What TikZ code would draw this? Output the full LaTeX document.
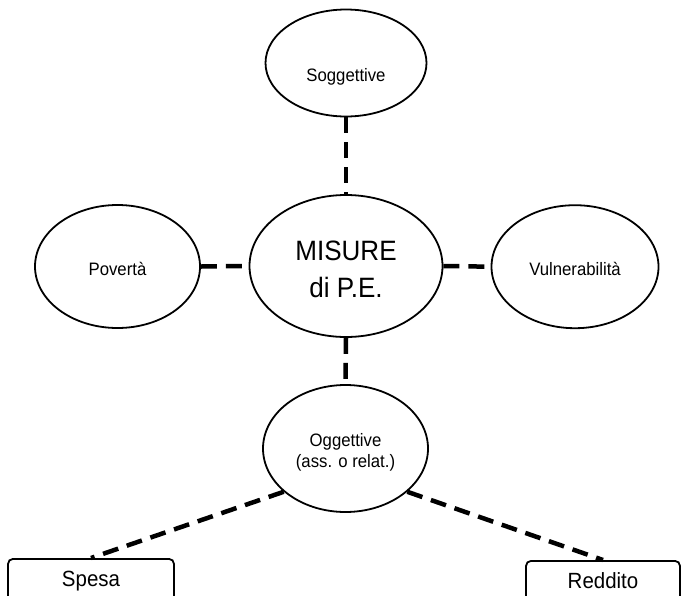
\documentclass[tikz,border=0pt]{standalone}
\usepackage{fontspec}
\setmainfont{Liberation Sans}[FakeStretch=0.93]
\usetikzlibrary{shapes.geometric}
\tikzset{
  oval/.style={draw, ellipse, line width=1.8pt, inner sep=0pt, align=center,
    font=\fontsize{18}{21}\selectfont},
  leafbox/.style={draw, rounded corners=5pt, line width=1.8pt, anchor=north,
    inner xsep=0pt, inner ysep=12pt, text height=16pt, text depth=5pt,
    font=\fontsize{22}{26}\selectfont},
  link/.style={line width=4.5pt, dash pattern=on 16pt off 9pt},
}
\newcommand{\lowr}[2]{\raisebox{-#1pt}[0pt][0pt]{#2}}
\begin{document}
\begin{tikzpicture}[x=1pt,y=-1pt]
\useasboundingbox (0,0) rectangle (682,595);
\clip (0,0) rectangle (682,595);
\fill[white] (0,0) rectangle (682,595);

\node[oval, minimum width=161pt, minimum height=107pt] (sog) at (346,63) {\lowr{18}{Soggettive}};
\node[oval, minimum width=193pt, minimum height=142pt, font=\fontsize{28}{37}\selectfont] (mis) at (346,266)
  {\lowr{12.5}{MISURE}\\\lowr{12.5}{di P.E.}};
\node[oval, minimum width=165pt, minimum height=123pt] (pov) at (117.5,266.5) {\lowr{8.5}{Povertà}};
\node[oval, minimum width=167pt, minimum height=123pt] (vul) at (575,266.7) {\lowr{8.3}{Vulnerabilità}};
\node[oval, minimum width=165pt, minimum height=127pt] (ogg) at (345.5,448.5)
  {\lowr{8}{Oggettive}\\\lowr{8}{(ass. o relat.)}};

\node[leafbox, minimum width=166pt] (spe) at (91,558) {Spesa};
\node[leafbox, minimum width=154pt] (red) at (603,560) {Reddito};

\draw[link] (sog.south) -- (mis.north);
\draw[link] (pov.east) -- (mis.west);
\draw[link] (mis.east) -- (vul.west);
\draw[link] (mis.south) -- (ogg.north);
\draw[link] (ogg.215) -- (spe.north);
\draw[link] (ogg.-35) -- (red.north);
\end{tikzpicture}
\end{document}
